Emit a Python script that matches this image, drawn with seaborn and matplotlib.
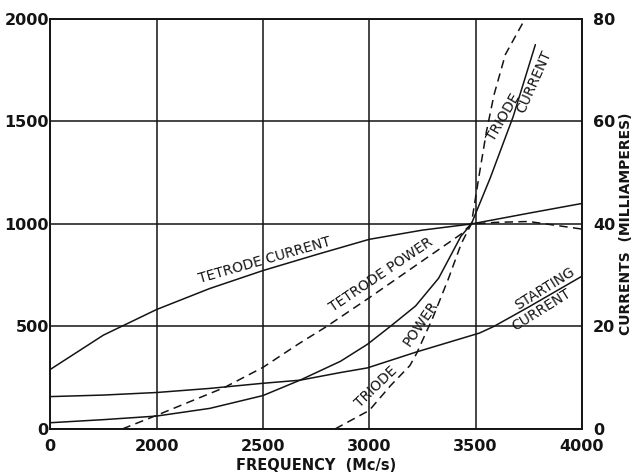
import matplotlib
matplotlib.use('Agg')
import matplotlib.pyplot as plt
import seaborn as sns

# ---------------- data ----------------
# x axis: frequency (Mc/s); the first gridline is labelled "0" (broken axis)
freq_ticks = [1500, 2000, 2500, 3000, 3500, 4000]
freq_tick_labels = ['0', '2000', '2500', '3000', '3500', '4000']
power_ticks = [0, 500, 1000, 1500, 2000]
current_ticks = [0, 20, 40, 60, 80]

# currents (right axis, mA)
tetrode_current_f = [1500, 1750, 2000, 2250, 2500, 2750, 3000, 3250, 3480, 3750, 4000]
tetrode_current_ma = [11.6, 18.3, 23.3, 27.4, 30.9, 34.0, 37.0, 38.8, 40.0, 42.1, 44.0]

triode_current_f = [1500, 1750, 2000, 2250, 2500, 2674, 2865, 2991, 3102, 3218, 3326, 3431, 3480, 3569, 3677, 3781]
triode_current_ma = [1.2, 1.8, 2.5, 4.0, 6.5, 9.5, 13.2, 16.5, 20.1, 24.0, 29.4, 37.6, 40.0, 49.0, 61.0, 75.0]

starting_current_f = [1500, 1750, 2000, 2250, 2500, 2674, 2865, 2991, 3221, 3518, 3586, 3750, 4000]
starting_current_ma = [6.3, 6.6, 7.1, 7.9, 8.9, 9.5, 11.0, 11.9, 15.0, 18.7, 20.0, 23.8, 29.8]

# powers (left axis)
tetrode_power_f = [1840, 2000, 2150, 2315, 2500, 2671, 2800, 3000, 3250, 3431, 3480, 3600, 3750, 4000]
tetrode_power = [0, 66, 130, 200, 300, 417, 500, 640, 820, 950, 1000, 1008, 1012, 975]

triode_power_f = [2840, 3000, 3100, 3191, 3222, 3267, 3297, 3373, 3433, 3480, 3517, 3551, 3587, 3640, 3732]
triode_power = [0, 90, 211, 309, 367, 470, 538, 735, 905, 1000, 1240, 1451, 1632, 1827, 2000]

# ---------------- style ----------------
sns.set_theme(style='white')
plt.rcParams['font.family'] = ['DejaVu Sans']

ink = '#141414'
lw = 1.1
dash = (0, (5.5, 3.5))

fig = plt.figure(figsize=(6.36, 4.76), dpi=100)
ax = fig.add_axes([0.079, 0.099, 0.836, 0.861])
ax2 = ax.twinx()

# power curves (dashed, left axis)
sns.lineplot(x=tetrode_power_f, y=tetrode_power, ax=ax, color=ink, lw=lw, linestyle=dash)
sns.lineplot(x=triode_power_f, y=triode_power, ax=ax, color=ink, lw=lw, linestyle=dash)

# current curves (solid, right axis)
sns.lineplot(x=tetrode_current_f, y=tetrode_current_ma, ax=ax2, color=ink, lw=lw)
sns.lineplot(x=triode_current_f, y=triode_current_ma, ax=ax2, color=ink, lw=lw)
sns.lineplot(x=starting_current_f, y=starting_current_ma, ax=ax2, color=ink, lw=lw)

# axes
ax.set_xlim(1500, 4000)
ax.set_ylim(0, 2000)
ax2.set_ylim(0, 80)
ax.set_xticks(freq_ticks)
ax.set_xticklabels(freq_tick_labels, fontsize=11.5, fontweight='bold', color=ink)
ax.set_yticks(power_ticks)
ax.set_yticklabels([str(v) for v in power_ticks], fontsize=11.5, fontweight='bold', color=ink)
ax2.set_yticks(current_ticks)
ax2.set_yticklabels([str(v) for v in current_ticks], fontsize=11.5, fontweight='bold', color=ink)
ax.tick_params(axis='x', length=0, pad=7)
ax.tick_params(axis='y', length=0, pad=1)
ax2.tick_params(axis='y', length=0, pad=8)

ax.grid(True, color=ink, lw=1.1)
ax2.grid(False)
for a in (ax, ax2):
    for s in a.spines.values():
        s.set_color(ink)
        s.set_linewidth(1.2)

ax.set_xlabel('FREQUENCY  (Mc/s)', fontsize=10.5, fontweight='bold', color=ink, labelpad=3)
ax.set_ylabel('')
ax2.set_ylabel('CURRENTS  (MILLIAMPERES)', fontsize=10, fontweight='bold', color=ink, labelpad=3)

# curve labels
lab = dict(fontsize=10, color=ink, ha='center', va='center', rotation_mode='anchor')
ax.text(2506, 822, 'TETRODE CURRENT', rotation=16, **lab)
ax.text(3057, 752, 'TETRODE POWER', rotation=34, **lab)
ax.text(3032, 205, 'TRIODE', rotation=44, **lab)
ax.text(3240, 515, 'POWER', rotation=56, **lab)
ax.text(3631, 1522, 'TRIODE', rotation=60, **lab)
ax.text(3774, 1693, 'CURRENT', rotation=66, **lab)
ax.text(3826, 683, 'STARTING', rotation=32, **lab)
ax.text(3808, 580, 'CURRENT', rotation=32, **lab)

fig.savefig('out.png', dpi=100)
